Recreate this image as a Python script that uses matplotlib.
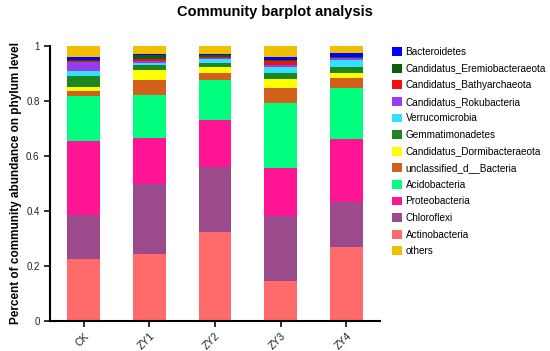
import matplotlib
matplotlib.use("Agg")
import matplotlib.pyplot as plt
import numpy as np

plt.rcParams['font.family'] = ['Liberation Sans', 'DejaVu Sans']

samples = ["CK", "ZY1", "ZY2", "ZY3", "ZY4"]

# stacking order bottom -> top
phyla = ["Actinobacteria", "Chloroflexi", "Proteobacteria", "Acidobacteria",
         "unclassified_d__Bacteria", "Candidatus_Dormibacteraeota", "Gemmatimonadetes",
         "Verrucomicrobia", "Candidatus_Rokubacteria", "Candidatus_Bathyarchaeota",
         "Candidatus_Eremiobacteraeota", "Bacteroidetes", "others"]

actinobacteria = [0.223, 0.241, 0.321, 0.145, 0.267]
chloroflexi = [0.161, 0.256, 0.237, 0.237, 0.163]
proteobacteria = [0.269, 0.166, 0.172, 0.172, 0.230]
acidobacteria = [0.165, 0.158, 0.145, 0.236, 0.185]
unclassified = [0.017, 0.054, 0.024, 0.057, 0.036]
dormibacteraeota = [0.016, 0.037, 0.025, 0.032, 0.018]
gemmatimonadetes = [0.039, 0.018, 0.012, 0.020, 0.025]
verrucomicrobia = [0.019, 0.008, 0.014, 0.025, 0.024]
rokubacteria = [0.033, 0.007, 0.005, 0.005, 0.006]
bathyarchaeota = [0.003, 0.005, 0.003, 0.015, 0.003]
eremiobacteraeota = [0.003, 0.016, 0.007, 0.004, 0.003]
bacteroidetes = [0.012, 0.004, 0.005, 0.010, 0.015]
others = [0.040, 0.030, 0.030, 0.042, 0.025]

values = [actinobacteria, chloroflexi, proteobacteria, acidobacteria, unclassified,
          dormibacteraeota, gemmatimonadetes, verrucomicrobia, rokubacteria,
          bathyarchaeota, eremiobacteraeota, bacteroidetes, others]

colors = ["#FF6B6B", "#9B4A8C", "#FF1493", "#00FF7F", "#D2601A", "#FFFF00",
          "#1E861E", "#33E0FF", "#9B3BF0", "#F01010", "#0A5E0A", "#0000FF", "#F2BE00"]

fig = plt.figure(figsize=(5.5, 3.51), dpi=100)
ax = fig.add_axes([50/550, 1 - 320.7/351, 330/550, 275/351])

x = np.arange(len(samples))
bottom = np.zeros(len(samples))
handles = {}
for name, vals, col in zip(phyla, values, colors):
    b = ax.bar(x, vals, width=0.5, bottom=bottom, color=col, edgecolor='none', label=name)
    handles[name] = b
    bottom += np.array(vals)

ax.set_xlim(-0.51, 4.51)
ax.set_ylim(0, 1)
ax.set_yticks([0, 0.2, 0.4, 0.6, 0.8, 1.0])
ax.set_yticklabels(["0", "0.2", "0.4", "0.6", "0.8", "1"])
ax.set_xticks(x)
ax.set_xticklabels(samples, rotation=45, ha='right', rotation_mode='anchor')
for s in ['top', 'right']:
    ax.spines[s].set_visible(False)
for s in ['left', 'bottom']:
    ax.spines[s].set_linewidth(1.5)
ax.tick_params(axis='both', width=1.3, length=4, labelsize=7, colors='#222222')
ax.tick_params(axis='x', labelsize=7.5)
ax.set_ylabel("Percent of community abundance on phylum level", fontsize=8.5,
              fontweight='bold', labelpad=3)

fig.suptitle("Community barplot analysis", x=0.5, y=0.985, fontsize=10.5, fontweight='bold')

legend_order = phyla[:-1][::-1] + ["others"]
leg = fig.legend([handles[n] for n in legend_order], legend_order,
                 loc='upper left', bbox_to_anchor=(388/550, 1 - 43/351),
                 frameon=False, fontsize=7.2, handlelength=1.0, handleheight=1.0,
                 handletextpad=0.35, labelspacing=0.66, borderaxespad=0)

fig.savefig("out.png", dpi=100)
